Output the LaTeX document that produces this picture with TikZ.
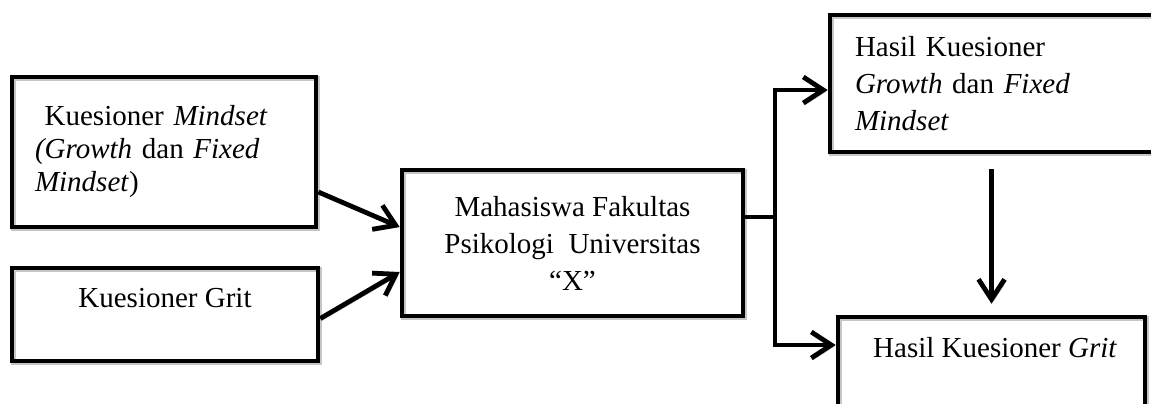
\documentclass[tikz,border=0pt]{standalone}
\usepackage{fontspec}
\setmainfont{Liberation Serif}
\usetikzlibrary{arrows.meta,calc}

\tikzset{
  kotak/.style={draw, line width=2.3pt, inner ysep=0pt,
    preaction={draw=gray!45, transform canvas={shift={(0.8pt,-0.8pt)}}}},
  garis/.style={line width=2.4pt,
    preaction={draw=gray!55, transform canvas={shift={(0.9pt,-0.9pt)}}}},
  konektor/.style={garis, -{Straight Barb[length=10pt, width=13pt]}}
}

\begin{document}
\begin{tikzpicture}[x=0.5pt, y=-0.5pt]

    \useasboundingbox (0,0) rectangle (1151,403);

    % Kotak kuesioner (kiri)
    \node[kotak, text width=129pt, inner xsep=11.5pt, minimum height=75pt, align=left,
          font=\fontsize{14.5}{16.5}\selectfont] (mindset) at (164,152)
        {\ Kuesioner \textit{Mindset}\\ \textit{(Growth} dan \textit{Fixed}\\ \textit{Mindset})};
    \node[kotak, minimum width=153pt, minimum height=46.5pt, align=center,
          font=\fontsize{14.5}{16.5}\selectfont] (grit) at (165,314.5)
        {Kuesioner Grit\\ \mbox{}};

    % Kotak subjek (tengah)
    \node[kotak, minimum width=170.5pt, minimum height=73pt, align=center,
          font=\fontsize{14.5}{18.5}\selectfont] (mahasiswa) at (572.5,243)
        {Mahasiswa Fakultas\\ Psikologi\ \ Universitas\\ “X”};

    % Kotak hasil (kanan)
    \node[kotak, text width=142.5pt, inner xsep=12.5pt, minimum height=68.5pt, align=left,
          font=\fontsize{14.5}{18.5}\selectfont] (hasilmindset) at (997.5,83.5)
        {Hasil Kuesioner\\ \textit{Growth} dan \textit{Fixed}\\ \textit{Mindset}};
    \node[kotak, minimum width=153.5pt, minimum height=49pt, align=center,
          font=\fontsize{14.5}{18.5}\selectfont] (hasilgrit) at (991.5,366)
        {\ Hasil Kuesioner \textit{Grit}\\ \mbox{}};

    % Panah masuk
    \draw[konektor] ($(mindset.east)+(0,40)$) -- ($(mahasiswa.west)+(0,-16)$);
    \draw[konektor] ($(grit.east)+(0,4)$) -- ($(mahasiswa.west)+(0,29)$);

    % Percabangan ke hasil
    \coordinate (cabang) at (775,217);
    \draw[garis] ($(mahasiswa.east)+(0,-26)$) -- (cabang);
    \draw[konektor] (cabang) |- ($(hasilmindset.west)+(0,6.5)$);
    \draw[konektor] (cabang) |- ($(hasilgrit.west)+(0,-21)$);

    % Panah hasil mindset ke hasil grit
    \draw[konektor] ($(hasilgrit.north |- hasilmindset.south)+(0,15)$) -- ($(hasilgrit.north)+(0,-11)$);

\end{tikzpicture}
\end{document}
